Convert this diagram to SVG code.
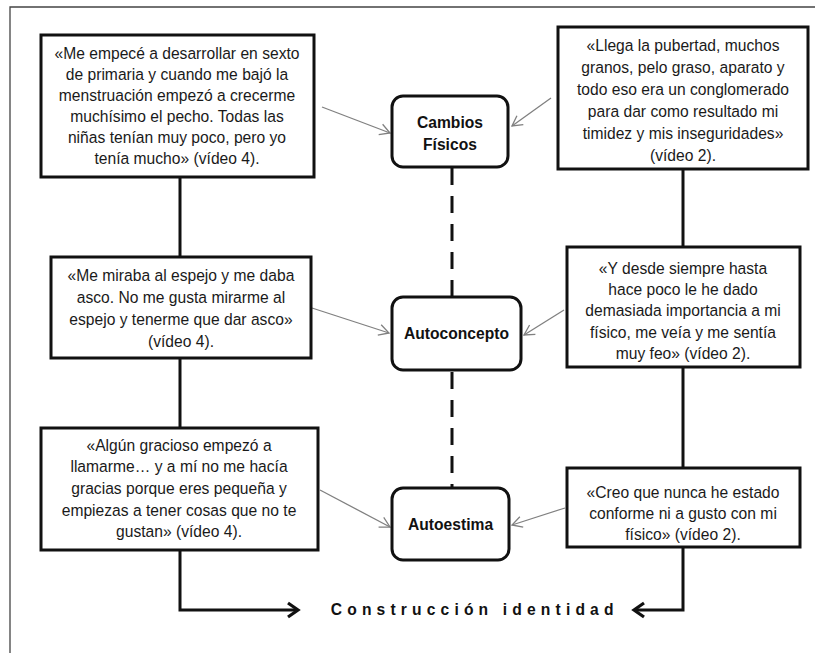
<svg xmlns="http://www.w3.org/2000/svg" width="815" height="653" viewBox="0 0 815 653">
<style>
.q{font-family:"Liberation Sans",Arial,Helvetica,sans-serif;font-size:17px;fill:#1a1a1a;text-anchor:middle}
.n{font-family:"Liberation Sans",Arial,Helvetica,sans-serif;font-size:17px;font-weight:bold;fill:#111;text-anchor:middle}
.c{font-family:"Liberation Sans",Arial,Helvetica,sans-serif;font-size:17px;font-weight:bold;fill:#111;text-anchor:middle;letter-spacing:5.6px}
.box{fill:#fff;stroke:#111;stroke-width:3}
.thick{fill:none;stroke:#111;stroke-width:3}
.thin{fill:none;stroke:#808080;stroke-width:1.3}
.dash{fill:none;stroke:#111;stroke-width:3;stroke-dasharray:17 11}
.frame{fill:none;stroke:#444;stroke-width:1.3}
</style>
<defs>
<marker id="ah" markerUnits="userSpaceOnUse" markerWidth="14" markerHeight="14" refX="11" refY="7" orient="auto" viewBox="0 0 14 14">
<path d="M1,1.5 L11,7 L1,12.5" fill="none" stroke="#808080" stroke-width="1.3"/>
</marker>
<marker id="ahb" markerUnits="userSpaceOnUse" markerWidth="18" markerHeight="18" refX="14" refY="9" orient="auto" viewBox="0 0 18 18">
<path d="M4,2 L14,9 L4,16" fill="none" stroke="#111" stroke-width="3.2"/>
</marker>
</defs>
<path class="frame" d="M10,653 L10,7 L815,7"/>
<g id="connectors">
<path class="thick" d="M180,177 L180,257"/>
<path class="thick" d="M180,358 L180,428"/>
<path class="thick" d="M180,550 L180,610 L298,610" marker-end="url(#ahb)"/>
<path class="thick" d="M683,169 L683,247"/>
<path class="thick" d="M683,367 L683,468"/>
<path class="thick" d="M683,547 L683,610 L634,610" marker-end="url(#ahb)"/>
<path class="dash" d="M452,168 L452,296"/>
<path class="dash" d="M452,372 L452,487"/>
<path class="thin" d="M322,107 L390,133" marker-end="url(#ah)"/>
<path class="thin" d="M551,98 L512,126" marker-end="url(#ah)"/>
<path class="thin" d="M312,308 L389,333" marker-end="url(#ah)"/>
<path class="thin" d="M564,310 L524,335" marker-end="url(#ah)"/>
<path class="thin" d="M320,490 L390,527" marker-end="url(#ah)"/>
<path class="thin" d="M565,508 L512,525" marker-end="url(#ah)"/>
</g>
<g id="q1">
<rect class="box" x="41" y="35" width="273" height="142"/>
<g transform="scale(0.92,1)">
<text class="q" x="192.4" y="59">«Me empecé a desarrollar en sexto</text>
<text class="q" x="192.4" y="80">de primaria y cuando me bajó la</text>
<text class="q" x="192.4" y="101">menstruación empezó a crecerme</text>
<text class="q" x="192.4" y="122">muchísimo el pecho. Todas las</text>
<text class="q" x="192.4" y="143">niñas tenían muy poco, pero yo</text>
<text class="q" x="192.4" y="164">tenía mucho» (vídeo 4).</text>
</g>
</g>
<g id="q2">
<rect class="box" x="558" y="27" width="250" height="142"/>
<g transform="scale(0.92,1)">
<text class="q" x="742.4" y="51">«Llega la pubertad, muchos</text>
<text class="q" x="742.4" y="73">granos, pelo graso, aparato y</text>
<text class="q" x="742.4" y="95">todo eso era un conglomerado</text>
<text class="q" x="742.4" y="117">para dar como resultado mi</text>
<text class="q" x="742.4" y="139">timidez y mis inseguridades»</text>
<text class="q" x="742.4" y="161">(vídeo 2).</text>
</g>
</g>
<g id="q3">
<rect class="box" x="51" y="257" width="260" height="101"/>
<g transform="scale(0.92,1)">
<text class="q" x="196.7" y="281">«Me miraba al espejo y me daba</text>
<text class="q" x="196.7" y="303">asco. No me gusta mirarme al</text>
<text class="q" x="196.7" y="325">espejo y tenerme que dar asco»</text>
<text class="q" x="196.7" y="347">(vídeo 4).</text>
</g>
</g>
<g id="q4">
<rect class="box" x="567" y="247" width="233" height="120"/>
<g transform="scale(0.92,1)">
<text class="q" x="742.4" y="274">«Y desde siempre hasta</text>
<text class="q" x="742.4" y="295">hace poco le he dado</text>
<text class="q" x="742.4" y="316">demasiada importancia a mi</text>
<text class="q" x="742.4" y="338">físico, me veía y me sentía</text>
<text class="q" x="742.4" y="359">muy feo» (vídeo 2).</text>
</g>
</g>
<g id="q5">
<rect class="box" x="41" y="428" width="277" height="122"/>
<g transform="scale(0.92,1)">
<text class="q" x="194.6" y="451">«Algún gracioso empezó a</text>
<text class="q" x="194.6" y="472">llamarme… y a mí no me hacía</text>
<text class="q" x="194.6" y="494">gracias porque eres pequeña y</text>
<text class="q" x="194.6" y="516">empiezas a tener cosas que no te</text>
<text class="q" x="194.6" y="537">gustan» (vídeo 4).</text>
</g>
</g>
<g id="q6">
<rect class="box" x="567" y="468" width="233" height="79"/>
<g transform="scale(0.92,1)">
<text class="q" x="742.4" y="498">«Creo que nunca he estado</text>
<text class="q" x="742.4" y="519">conforme ni a gusto con mi</text>
<text class="q" x="742.4" y="540">físico» (vídeo 2).</text>
</g>
</g>
<g id="cambios">
<rect class="box" x="392" y="96" width="116" height="71" rx="11"/>
<g transform="scale(0.92,1)">
<text class="n" x="489.1" y="128">Cambios</text>
<text class="n" x="489.1" y="150">Físicos</text>
</g>
</g>
<g id="autoconcepto">
<rect class="box" x="392" y="297" width="129" height="73" rx="11"/>
<g transform="scale(0.92,1)">
<text class="n" x="496.2" y="339">Autoconcepto</text>
</g>
</g>
<g id="autoestima">
<rect class="box" x="392" y="488" width="117" height="72" rx="11"/>
<g transform="scale(0.92,1)">
<text class="n" x="489.7" y="530">Autoestima</text>
</g>
</g>
<g id="construccion">
<g transform="scale(0.92,1)">
<text class="c" x="516" y="615">Construcción identidad</text>
</g>
</g>
</svg>
